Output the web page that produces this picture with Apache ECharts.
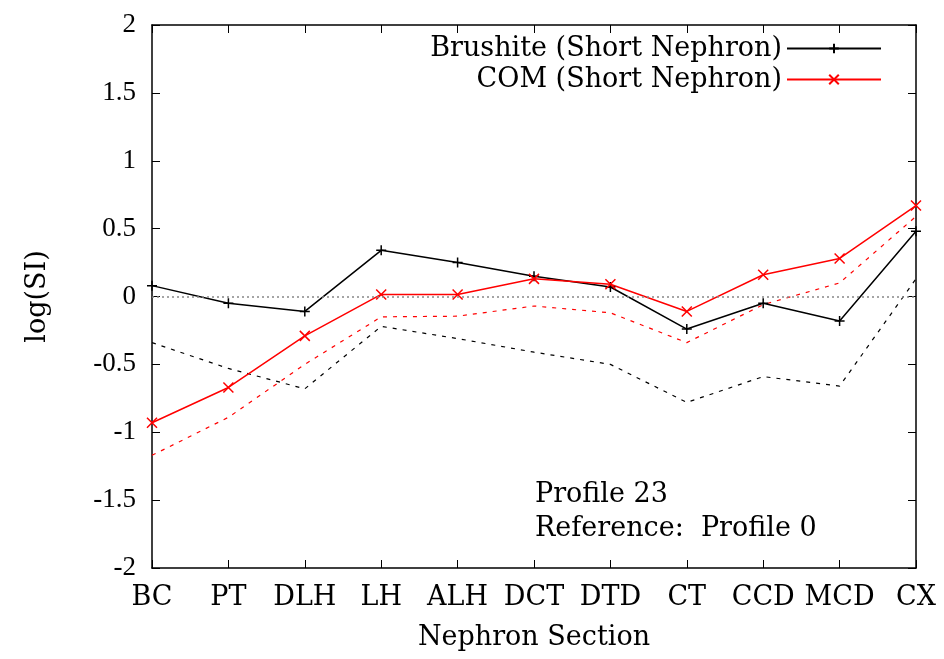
<!DOCTYPE html>
<html>
<head>
<meta charset="utf-8">
<script src="https://cdn.jsdelivr.net/npm/echarts@6/dist/echarts.min.js"></script>
<style>
html, body { margin: 0; padding: 0; background: #fff; }
#chart { width: 944px; height: 659px; }
</style>
</head>
<body>
<div id="chart"></div>
<script>
// nephron sections on the x axis
var sections = ['BC', 'PT', 'DLH', 'LH', 'ALH', 'DCT', 'DTD', 'CT', 'CCD', 'MCD', 'CX'];
var yTicks = [-2, -1.5, -1, -0.5, 0, 0.5, 1, 1.5, 2];

// profile 23 (solid, with markers)
var brushite = [0.08, -0.05, -0.11, 0.34, 0.25, 0.15, 0.07, -0.24, -0.05, -0.18, 0.48];
var com = [-0.93, -0.67, -0.29, 0.015, 0.015, 0.13, 0.09, -0.11, 0.16, 0.28, 0.67];

// reference profile 0 (dashed)
var brushiteRef = [-0.34, -0.53, -0.68, -0.22, -0.31, -0.41, -0.50, -0.78, -0.59, -0.66, 0.13];
var comRef = [-1.17, -0.89, -0.50, -0.15, -0.145, -0.07, -0.12, -0.34, -0.06, 0.10, 0.59];

var NUMFONT = 'Liberation Serif';
var WORDFONT = 'DejaVu Serif';
var plus = 'path://M0,5L10,5M5,0L5,10';
var cross = 'path://M0,0L10,10M10,0L0,10';

var chart = echarts.init(document.getElementById('chart'));

var wordText = { fontFamily: WORDFONT, fontSize: 27, color: '#000' };

chart.setOption({
    backgroundColor: '#fff',
    animation: false,
    grid: { left: 152, right: 28, top: 25, bottom: 91 },
    legend: [{
        data: ['Brushite (Short Nephron)'],
        right: 57, top: 30,
        align: 'right',
        itemWidth: 94, itemHeight: 12,
        textStyle: wordText
    }, {
        data: ['COM (Short Nephron)'],
        right: 57, top: 61,
        align: 'right',
        itemWidth: 94, itemHeight: 12,
        textStyle: wordText
    }],
    xAxis: [{
        type: 'category',
        data: sections,
        boundaryGap: false,
        position: 'bottom',
        name: 'Nephron Section',
        nameLocation: 'middle',
        nameGap: 56,
        nameTextStyle: wordText,
        axisLine: { onZero: false, lineStyle: { color: '#000', width: 1.5 } },
        axisTick: { inside: true, length: 8, alignWithLabel: true, lineStyle: { color: '#000' } },
        axisLabel: { fontFamily: WORDFONT, fontSize: 27, color: '#000', margin: 16, interval: 0 },
        splitLine: { show: false }
    }, {
        type: 'category',
        data: sections,
        boundaryGap: false,
        position: 'top',
        axisLine: { onZero: false, lineStyle: { color: '#000', width: 1.5 } },
        axisTick: { inside: true, length: 8, lineStyle: { color: '#000' } },
        axisLabel: { show: false },
        splitLine: { show: false }
    }],
    yAxis: [{
        type: 'value',
        min: yTicks[0], max: yTicks[yTicks.length - 1], interval: 0.5,
        name: 'log(SI)',
        nameLocation: 'middle',
        nameGap: 101,
        nameRotate: 90,
        nameTextStyle: wordText,
        axisLine: { show: true, onZero: false, lineStyle: { color: '#000', width: 1.5 } },
        axisTick: { show: true, inside: true, length: 8, lineStyle: { color: '#000' } },
        axisLabel: { fontFamily: NUMFONT, fontSize: 27, color: '#000', margin: 16 },
        splitLine: { show: false }
    }, {
        type: 'value',
        position: 'right',
        min: yTicks[0], max: yTicks[yTicks.length - 1], interval: 0.5,
        axisLine: { show: true, onZero: false, lineStyle: { color: '#000', width: 1.5 } },
        axisTick: { show: true, inside: true, length: 8, lineStyle: { color: '#000' } },
        axisLabel: { show: false },
        splitLine: { show: false }
    }],
    series: [{
        name: 'Brushite (Short Nephron)',
        type: 'line',
        data: brushite,
        symbol: plus,
        symbolSize: 10,
        showAllSymbol: true,
        lineStyle: { color: '#000', width: 1.5 },
        itemStyle: { color: '#000', borderColor: '#000', borderWidth: 1.5 },
        markLine: {
            silent: true,
            symbol: 'none',
            label: { show: false },
            lineStyle: { color: '#888', type: [2, 3], width: 1.5 },
            data: [{ yAxis: 0 }]
        },
        z: 4
    }, {
        name: 'COM (Short Nephron)',
        type: 'line',
        data: com,
        symbol: cross,
        symbolSize: 10,
        showAllSymbol: true,
        lineStyle: { color: '#ff0000', width: 1.5 },
        itemStyle: { color: '#ff0000', borderColor: '#ff0000', borderWidth: 1.5 },
        z: 4
    }, {
        name: 'Brushite ref',
        type: 'line',
        data: brushiteRef,
        symbol: 'none',
        lineStyle: { color: '#000', width: 1.2, type: [4, 6] },
        z: 3
    }, {
        name: 'COM ref',
        type: 'line',
        data: comRef,
        symbol: 'none',
        lineStyle: { color: '#ff0000', width: 1.2, type: [4, 6] },
        z: 3
    }],
    graphic: [{
        type: 'text',
        left: 535, top: 481,
        style: { text: 'Profile 23', font: '27px "DejaVu Serif"', fill: '#000' }
    }, {
        type: 'text',
        left: 535, top: 515,
        style: { text: 'Reference:  Profile 0', font: '27px "DejaVu Serif"', fill: '#000' }
    }]
});
</script>
</body>
</html>
